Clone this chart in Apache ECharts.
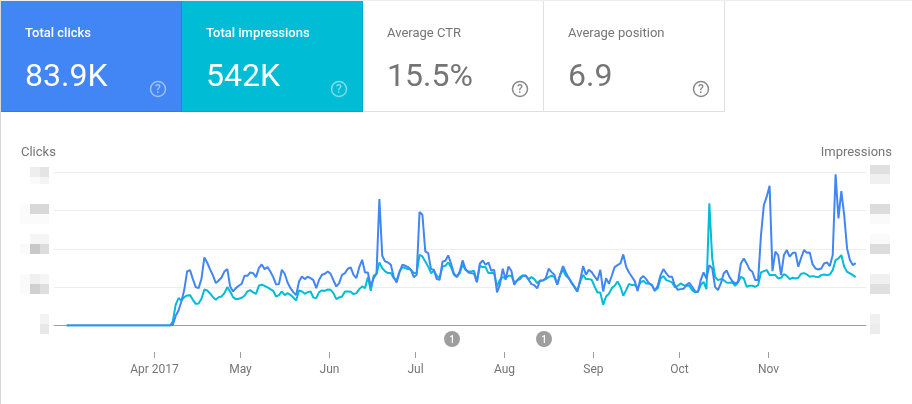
<!DOCTYPE html>
<html>
<head>
<meta charset="utf-8">
<style>
    html, body { margin: 0; padding: 0; background: #fff; }
    #main { width: 912px; height: 404px; }
</style>
<script src="https://cdn.jsdelivr.net/npm/echarts@6/dist/echarts.min.js"></script>
</head>
<body>
<div id="main"></div>
<script>
((echarts) => {
    'use strict';

    const FONT = 'Roboto, sans-serif';
    const GREY = '#757575';

    // the scale labels are blurred in the source, so values are in chart units:
    // one gridline step = 115 units on both axes
    // daily values from 2017-04-06, everything before is zero
    const clicks = [
        0, 2, 29, 45, 72, 107, 162, 166, 139, 115, 112, 140, 204, 188, 168, 150, 127, 135, 144, 162,
        169, 117, 102, 112, 119, 125, 149, 149, 159, 157, 145, 172, 183, 169, 175, 162, 145, 123, 124, 167,
        155, 129, 112, 100, 91, 132, 147, 139, 146, 142, 136, 112, 137, 152, 155, 162, 155, 135, 117, 127,
        152, 157, 170, 174, 152, 142, 175, 197, 159, 159, 117, 142, 155, 379, 209, 192, 189, 182, 145, 129,
        159, 182, 179, 175, 167, 145, 152, 340, 332, 222, 217, 169, 167, 139, 137, 191, 194, 210, 185, 155,
        147, 162, 195, 169, 159, 157, 155, 129, 185, 195, 182, 189, 164, 167, 99, 122, 170, 137, 177, 164,
        122, 135, 139, 149, 149, 137, 124, 121, 111, 135, 135, 142, 170, 160, 152, 122, 152, 178, 159, 142,
        127, 115, 101, 137, 178, 152, 167, 160, 147, 135, 167, 102, 142, 125, 149, 175, 181, 186, 213, 176,
        159, 146, 133, 103, 141, 148, 139, 126, 121, 103, 119, 151, 169, 156, 146, 146, 119, 107, 109, 110,
        121, 128, 116, 103, 100, 136, 159, 141, 181, 171, 116, 106, 126, 156, 165, 146, 133, 126, 131, 186,
        201, 186, 168, 161, 136, 136, 271, 361, 386, 419, 163, 221, 211, 151, 211, 226, 206, 217, 219, 176,
        203, 226, 218, 219, 183, 171, 168, 171, 186, 189, 178, 211, 453, 321, 403, 331, 231, 196, 181, 187
    ];
    const impressions = [
        0, 12, 62, 82, 75, 85, 90, 91, 77, 65, 66, 80, 108, 105, 96, 85, 77, 85, 87, 97,
        115, 102, 85, 79, 80, 83, 89, 102, 106, 99, 95, 119, 122, 119, 114, 109, 104, 87, 91, 102,
        91, 97, 92, 84, 75, 105, 102, 95, 100, 102, 84, 82, 100, 105, 104, 108, 107, 97, 79, 84,
        87, 102, 102, 101, 94, 97, 109, 117, 112, 145, 104, 149, 155, 189, 172, 162, 157, 157, 142, 135,
        162, 175, 172, 169, 167, 157, 157, 212, 207, 192, 177, 157, 164, 149, 142, 177, 179, 189, 175, 152,
        145, 157, 182, 167, 162, 162, 164, 132, 179, 175, 175, 157, 157, 157, 117, 137, 145, 142, 149, 149,
        129, 135, 145, 150, 150, 139, 145, 139, 127, 134, 135, 139, 145, 149, 145, 124, 152, 167, 149, 142,
        129, 117, 104, 132, 152, 139, 139, 137, 117, 99, 99, 62, 87, 95, 112, 119, 132, 116, 89, 106,
        125, 121, 121, 113, 129, 134, 126, 126, 121, 106, 111, 141, 148, 136, 133, 129, 115, 119, 126, 121,
        119, 119, 106, 100, 101, 121, 131, 109, 366, 201, 146, 136, 139, 136, 129, 128, 129, 119, 129, 146,
        141, 116, 119, 119, 116, 121, 159, 163, 166, 151, 151, 151, 141, 143, 154, 149, 139, 143, 141, 143,
        155, 157, 153, 146, 148, 146, 145, 151, 153, 151, 153, 166, 196, 201, 211, 176, 161, 156, 151, 145
    ];

    const cards = [
        { x: 1, title: 'Total clicks', value: '83.9K', bg: '#4285f4', edge: '#3b78e0', fg: '#fff', help: 'rgba(255,255,255,0.5)' },
        { x: 182, title: 'Total impressions', value: '542K', bg: '#00bcd4', edge: '#00acc1', fg: '#fff', help: 'rgba(255,255,255,0.5)' },
        { x: 363, title: 'Average CTR', value: '15.5%', bg: '#fff', edge: '#e0e0e0', fg: GREY, help: '#8a8a8a' },
        { x: 544, title: 'Average position', value: '6.9', bg: '#fff', edge: '#e0e0e0', fg: GREY, help: '#8a8a8a' }
    ];

    // blurred tick labels: [x, y, w, h, colour]
    const blurs = [
        [30, 167, 10, 10, '#eeeeee'], [40, 167, 9, 10, '#e4e4e4'], [30, 177, 10, 7, '#fafafa'], [40, 177, 9, 7, '#f3f3f3'],
        [20, 204, 10, 10, '#fbfbfb'], [30, 204, 19, 10, '#d8d8d8'], [20, 214, 29, 10, '#fbfbfb'],
        [30, 234, 19, 10, '#f5f5f5'], [20, 244, 10, 10, '#fafafa'], [30, 244, 10, 10, '#c8c8c8'], [40, 244, 9, 10, '#dcdcdc'],
        [20, 274, 10, 10, '#fafafa'], [30, 274, 10, 10, '#f0f0f0'], [40, 274, 9, 10, '#f5f5f5'],
        [20, 284, 10, 10, '#fafafa'], [30, 284, 10, 10, '#d0d0d0'], [40, 284, 9, 10, '#dedede'],
        [40, 314, 9, 10, '#f3f3f3'], [40, 324, 9, 10, '#e8e8e8'],
        [870, 165, 20, 9, '#e0e0e0'], [870, 174, 20, 10, '#f0f0f0'],
        [870, 204, 20, 10, '#dcdcdc'], [870, 214, 20, 10, '#fafafa'],
        [870, 234, 20, 10, '#fafafa'], [870, 244, 20, 10, '#dcdcdc'],
        [870, 274, 20, 10, '#f0f0f0'], [870, 284, 20, 10, '#e0e0e0'],
        [870, 314, 10, 10, '#f0f0f0'], [870, 324, 10, 10, '#ececec']
    ];

    // x is days since 2017-04-01, the flat part starts on Mar 1
    function buildSeries(values) {
        return new Array(36).fill(0).concat(values).map((v, i) => [i - 31, v]);
    }

    function text(x, y, str, size, fill, weight, align) {
        return {
            type: 'text', x: x, y: y, silent: true, z: 20,
            style: {
                text: str, fill: fill, font: (weight || 400) + ' ' + size + 'px ' + FONT,
                textAlign: align || 'left', textVerticalAlign: 'middle'
            }
        };
    }

    function line(x1, y1, x2, y2, color, z) {
        return { type: 'line', silent: true, z: z, shape: { x1: x1, y1: y1, x2: x2, y2: y2 }, style: { stroke: color, lineWidth: 1 } };
    }

    function buildCard(c) {
        const cx = c.x + 157, cy = 89;
        return [
            { type: 'rect', silent: true, z: 10, shape: { x: c.x, y: 1, width: 180, height: 110 }, style: { fill: c.bg } },
            line(c.x + 180.5, 1, c.x + 180.5, 111.5, c.edge, 11),
            line(c.x, 111.5, c.x + 181, 111.5, c.edge, 11),
            text(c.x + 24, 33.5, c.title, 13, c.fg, c.bg === '#fff' ? 400 : 500),
            text(c.x + 24, 78, c.value, 32, c.fg, 400),
            { type: 'circle', silent: true, z: 20, shape: { cx: cx, cy: cy, r: 7.5 }, style: { fill: 'none', stroke: c.help, lineWidth: 1.5 } },
            text(cx, cy + 1, '?', 12, c.help, 500, 'center')
        ];
    }

    function buildBadge(x) {
        return [
            { type: 'circle', silent: true, z: 20, shape: { cx: x, cy: 339, r: 8 }, style: { fill: '#9e9e9e' } },
            text(x, 340, '1', 10, '#fff', 500, 'center')
        ];
    }

    const months = { 0: 'Apr 2017', 30: 'May', 61: 'Jun', 91: 'Jul', 122: 'Aug', 153: 'Sep', 183: 'Oct', 214: 'Nov' };
    const monthTicks = Object.keys(months).map(Number);

    function yAxis() {
        return {
            type: 'value', min: 0, max: 460, interval: 115,
            axisLine: { show: false }, axisTick: { show: false }, axisLabel: { show: false },
            splitLine: { lineStyle: { color: '#eeeeee', width: 1 } }
        };
    }

    let elements = [
        line(0.5, 0, 0.5, 404, '#d8d8d8', 1),
        line(0, 0.5, 912, 0.5, '#eeeeee', 1),
        text(21, 153, 'Clicks', 13, GREY),
        text(892, 153, 'Impressions', 13, GREY, 400, 'right')
    ];
    cards.forEach(c => { elements = elements.concat(buildCard(c)); });
    blurs.forEach(b => {
        elements.push({ type: 'rect', silent: true, z: 5, shape: { x: b[0], y: b[1], width: b[2], height: b[3] }, style: { fill: b[4] } });
    });
    elements = elements.concat(buildBadge(452), buildBadge(544));

    const chart = echarts.init(document.getElementById('main'), null, { renderer: 'canvas' });
    chart.setOption({
        animation: false,
        backgroundColor: '#fff',
        grid: { left: 54, right: 46, top: 172, height: 153.5, containLabel: false },
        xAxis: [
            {
                // the lines sit a bit right of the month ticks in the source
                type: 'value', min: -35.4, max: 247.6,
                axisLine: { onZero: false, lineStyle: { color: '#9e9e9e', width: 1 } },
                axisTick: { show: false }, axisLabel: { show: false }, splitLine: { show: false }
            },
            {
                // month ticks and labels hang below the badges, detached from the baseline
                type: 'value', min: -35, max: 248, position: 'bottom', offset: 26.5,
                axisLine: { show: false, onZero: false }, splitLine: { show: false },
                axisTick: { show: true, customValues: monthTicks, length: 6, lineStyle: { color: '#9e9e9e', width: 1 } },
                axisLabel: {
                    customValues: monthTicks, margin: 12, color: GREY, fontFamily: FONT, fontSize: 12,
                    formatter: val => months[val]
                }
            }
        ],
        yAxis: [yAxis(), yAxis()],
        series: [
            {
                name: 'Impressions', type: 'line', xAxisIndex: 0, yAxisIndex: 1, showSymbol: false, z: 3,
                lineStyle: { color: '#00bcd4', width: 2 }, itemStyle: { color: '#00bcd4' },
                data: buildSeries(impressions)
            },
            {
                name: 'Clicks', type: 'line', xAxisIndex: 0, yAxisIndex: 0, showSymbol: false, z: 4,
                lineStyle: { color: '#4285f4', width: 2 }, itemStyle: { color: '#4285f4' },
                data: buildSeries(clicks)
            }
        ],
        graphic: { elements: elements }
    });
})(echarts);
</script>
</body>
</html>
